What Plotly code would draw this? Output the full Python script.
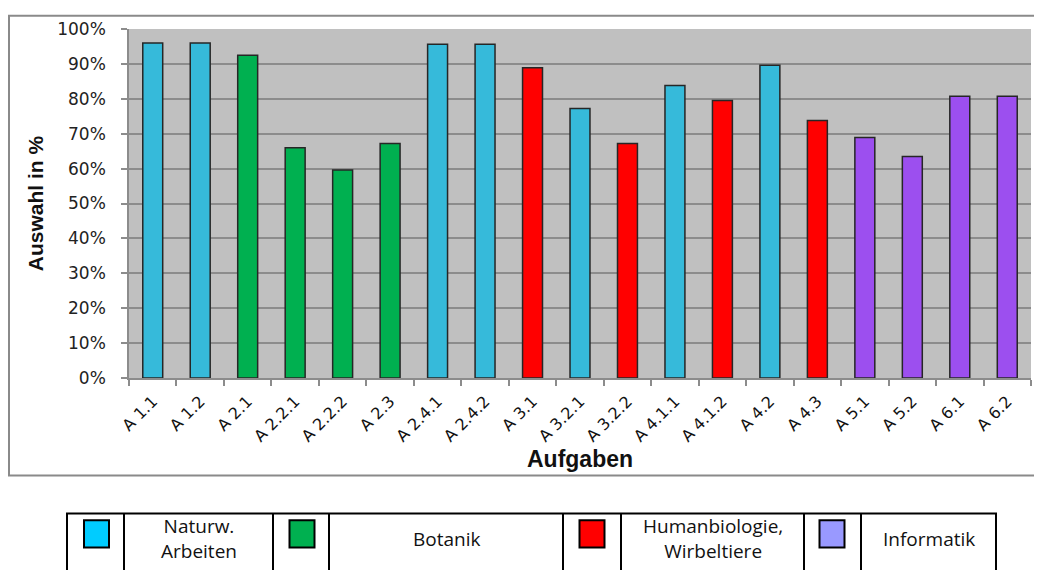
import plotly.graph_objects as go

# ---- data ----
categories = ["A 1.1", "A 1.2", "A 2.1", "A 2.2.1", "A 2.2.2", "A 2.3", "A 2.4.1", "A 2.4.2",
              "A 3.1", "A 3.2.1", "A 3.2.2", "A 4.1.1", "A 4.1.2", "A 4.2", "A 4.3",
              "A 5.1", "A 5.2", "A 6.1", "A 6.2"]
values = [0.96, 0.96, 0.925, 0.66, 0.596, 0.672, 0.956, 0.956,
          0.889, 0.772, 0.672, 0.838, 0.795, 0.896, 0.738,
          0.689, 0.635, 0.807, 0.807]
groups = ["NW", "NW", "BO", "BO", "BO", "BO", "NW", "NW",
          "HB", "NW", "HB", "NW", "HB", "NW", "HB",
          "IN", "IN", "IN", "IN"]
legend_labels = ["Naturw.<br>Arbeiten", "Botanik", "Humanbiologie,<br>Wirbeltiere", "Informatik"]
legend_groups = ["NW", "BO", "HB", "IN"]

bar_colors = {"NW": "#36BADA", "BO": "#00B050", "HB": "#FF0000", "IN": "#9C4FEF"}
swatch_colors = {"NW": "#00CCFF", "BO": "#00B050", "HB": "#FF0000", "IN": "#9999FF"}

OFF = 8  # page body margin
W, H = 1042 - OFF, 570 - OFF
L, R, T, B = 129 - OFF, 11, 25 - OFF, 192
PW, PH = W - L - R, H - T - B

def px(x):
    return (x - OFF - L) / PW

def py(y):
    return (H - B - (y - OFF)) / PH

fig = go.Figure()
fig.add_trace(go.Bar(
    x=categories, y=values,
    marker=dict(color=[bar_colors[g] for g in groups],
                line=dict(color="#262626", width=1.5)),
    width=0.42, showlegend=False,
))

shapes = []
annotations = []
# outer chart border
shapes.append(dict(type="rect", xref="paper", yref="paper",
                   x0=px(9), x1=px(1050), y0=py(476.5), y1=py(11.5),
                   line=dict(color="#8A8A8A", width=2), fillcolor="rgba(0,0,0,0)", layer="below"))

# legend table
col_edges = [67, 124, 273, 329, 563, 621, 804, 861, 996]
top, bot = 515, 580
shapes.append(dict(type="rect", xref="paper", yref="paper",
                   x0=px(col_edges[0]), x1=px(col_edges[-1]), y0=py(bot), y1=py(top),
                   line=dict(color="black", width=2), fillcolor="white"))
for xe in col_edges[1:-1]:
    shapes.append(dict(type="line", xref="paper", yref="paper",
                       x0=px(xe), x1=px(xe), y0=py(bot), y1=py(top),
                       line=dict(color="black", width=2)))
swatch_x = [84, 289.5, 579.5, 819.5]
for i, g in enumerate(legend_groups):
    sx = swatch_x[i]
    shapes.append(dict(type="rect", xref="paper", yref="paper",
                       x0=px(sx), x1=px(sx + 25), y0=py(549.5), y1=py(522),
                       line=dict(color="black", width=2), fillcolor=swatch_colors[g]))
    cx = (col_edges[2 * i + 1] + col_edges[2 * i + 2]) / 2
    annotations.append(dict(xref="paper", yref="paper", x=px(cx), y=py(540.5),
                            text=legend_labels[i], showarrow=False,
                            font=dict(family="Open Sans", size=19, color="#111"),
                            xanchor="center", yanchor="middle", align="center"))

fig.update_layout(
    width=W, height=H,
    margin=dict(l=L, r=R, t=T, b=B),
    paper_bgcolor="white", plot_bgcolor="#C0C0C0",
    shapes=shapes, annotations=annotations,
    xaxis=dict(
        type="category", tickangle=-45, tickson="boundaries",
        ticks="outside", ticklen=6, tickcolor="#8C8C8C", tickwidth=1.5,
        ticklabelstandoff=6,
        showline=True, linecolor="#8C8C8C", linewidth=1.5, showgrid=False,
        tickfont=dict(family="DejaVu Sans", size=16, color="#111"),
        title=dict(text="<b>Aufgaben</b>", font=dict(family="Liberation Sans", size=23, color="#111"),
                   standoff=0),
    ),
    yaxis=dict(
        range=[0, 1], dtick=0.1, tickformat=".0%",
        ticks="outside", ticklen=6, tickcolor="#8C8C8C", tickwidth=1.5,
        ticklabelstandoff=12,
        showline=True, linecolor="#8C8C8C", linewidth=1.5,
        showgrid=True, gridcolor="#8C8C8C", gridwidth=1.5,
        tickfont=dict(family="DejaVu Sans", size=17, color="#222"),
        title=dict(text="<b>Auswahl in %</b>", font=dict(family="Liberation Sans", size=21, color="#111"),
                   standoff=8),
        zeroline=False,
    ),
)

fig.write_html("out.html")
